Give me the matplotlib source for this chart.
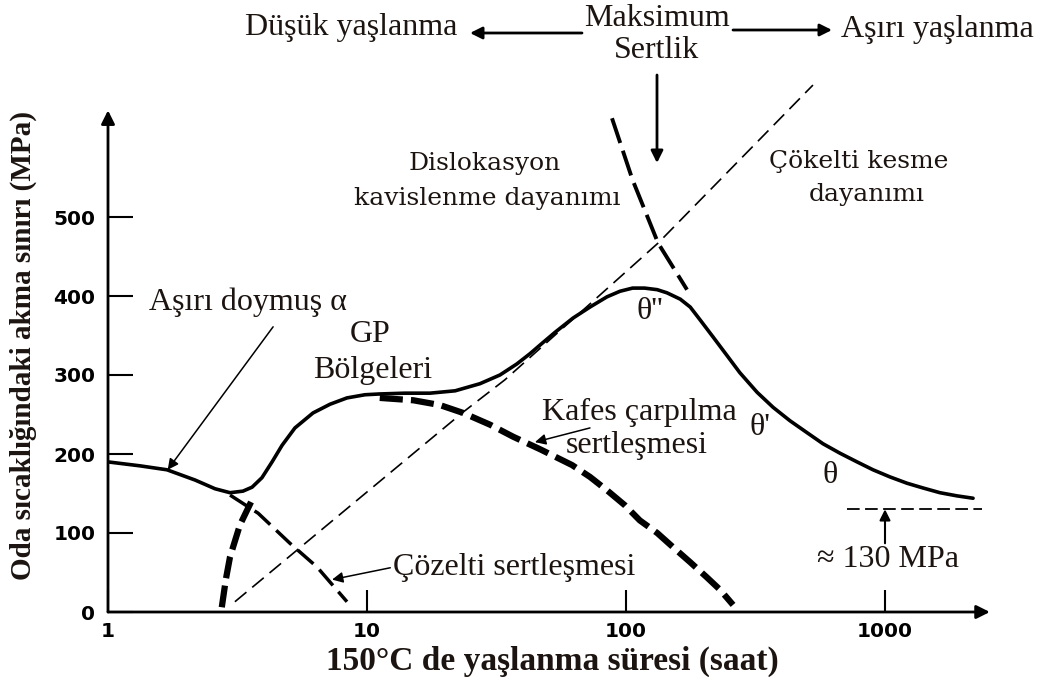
import matplotlib.pyplot as plt

# yield strength curves, x in hours (log), y in MPa
t_total = [1.0, 1.33, 1.69, 2.17, 2.59, 2.96, 3.32, 3.60, 3.93, 4.30, 4.70, 5.27, 6.19,
           7.20, 8.37, 9.82, 11.2, 14.0, 17.5, 21.9, 27.3, 32.6, 37.9, 42.6, 46.6, 53.2,
           62.4, 72.6, 84.5, 94.8, 106, 118, 132, 144, 162, 177, 193, 217, 245, 275, 321,
           370, 430, 500, 576, 670, 780, 899, 1045, 1216, 1402, 1630, 1897, 2188]
s_total = [190, 185, 180, 167, 156, 151, 153, 158, 170, 190, 211, 233, 252,
           263, 271, 275, 276, 277, 277, 280, 289, 300, 314, 327, 338, 354,
           372, 386, 399, 406, 410, 410, 408, 404, 396, 386, 370, 348, 325, 303, 278,
           259, 242, 227, 213, 201, 190, 180, 171, 163, 157, 151, 147, 144]

t_shear = [3.09, 23.5, 34.1, 89.1, 133, 527]
s_shear = [13, 253, 294, 416, 467, 667]

t_bow = [88.3, 106, 133, 172]
s_bow = [625, 547, 467, 408]

t_coh = [11.2, 15.1, 19.1, 23.5, 29.9, 36.6, 46.6, 61.9, 72.6, 84.5, 99.1, 113,
         132, 152, 177, 205, 231, 259]
s_coh = [271, 268, 262, 252, 237, 222, 206, 186, 171, 154, 135, 116,
         100, 82, 63, 44, 28, 9]

t_gp = [2.75, 2.85, 2.96, 3.23, 3.60]
s_gp = [6, 41, 70, 110, 142]

t_sol = [2.96, 3.80, 5.04, 6.41, 8.37]
s_sol = [148, 125, 87, 57, 13]

t_base = [713, 2370]
s_base = [130, 130]

xticks = [1, 10, 100, 1000]
yticks = [0, 100, 200, 300, 400, 500]

ink = '#1c1410'
serif = 'Liberation Serif'

fig = plt.figure(figsize=(10.43, 6.77), dpi=100)
ax = fig.add_axes([108/1043, 65/677, 935/1043, 612/677])
ax.set_xscale('log')
ax.set_xlim(1, 10**(935/259))
ax.set_ylim(0, 612/0.79)
for s in ax.spines.values():
    s.set_visible(False)

# axes with arrow heads
ax.annotate('', xy=(1, 635), xytext=(1, 0),
            arrowprops=dict(arrowstyle='-|>', lw=2, color='k', mutation_scale=20, shrinkA=0, shrinkB=0))
ax.annotate('', xy=(2540, 0), xytext=(1, 0),
            arrowprops=dict(arrowstyle='-|>', lw=2, color='k', mutation_scale=20, shrinkA=0, shrinkB=0))

ax.set_xticks(xticks)
ax.set_xticklabels([str(v) for v in xticks])
ax.minorticks_off()
ax.set_yticks(yticks)
ax.tick_params(axis='x', direction='in', length=16, width=1.5, pad=7)
ax.tick_params(axis='y', direction='in', length=18, width=1.5, pad=9)
for lab in ax.get_xticklabels() + ax.get_yticklabels():
    lab.set_fontfamily('DejaVu Sans')
    lab.set_fontweight('bold')
    lab.set_fontsize(14.5)

# curves
ax.plot(t_total, s_total, color='k', lw=2.6, solid_capstyle='round', solid_joinstyle='round')
ax.plot(t_shear, s_shear, color='k', lw=1.2, linestyle=(0, (9, 4.5)))
ax.plot(t_bow, s_bow, color='k', lw=2.8, linestyle=(0, (6.7, 2.1)))
ax.plot(t_coh, s_coh, color='k', lw=4.5, linestyle=(0, (3.7, 1.3)))
ax.plot(t_gp, s_gp, color='k', lw=4.5, linestyle=(0, (3.5, 1.2)))
ax.plot(t_sol, s_sol, color='k', lw=2.5, linestyle=(0, (6, 2.4)))
ax.plot(t_base, s_base, color='k', lw=1.3, linestyle=(0, (7, 3)))

arw = dict(arrowstyle='-|>', color='k', lw=1.1, mutation_scale=16, shrinkA=0, shrinkB=0)
txt = dict(family=serif, fontsize=23, color=ink, ha='center', va='center')

ax.text(3.47, 392, 'Aşırı doymuş α', **txt)
ax.annotate('', xy=(1.70, 180), xytext=(4.34, 361), arrowprops=arw)
ax.text(10.3, 351, 'GP', **txt)
ax.text(10.5, 306, 'Bölgeleri', **txt)
ax.text(113, 253, 'Kafes çarpılma', **txt)
ax.text(110, 211, 'sertleşmesi', **txt)
ax.annotate('', xy=(44.5, 215), xytext=(72.6, 233), arrowprops=arw)
ax.text(12.6, 56, 'Çözelti sertleşmesi', **dict(txt, ha='left'))
ax.annotate('', xy=(7.33, 41), xytext=(12.3, 56), arrowprops=arw)
ax.text(124, 380, "θ''", **txt)
ax.text(329, 233, "θ'", **txt)
ax.text(614, 173, 'θ', **txt)
ax.text(1027, 66, '≈ 130 MPa', **txt)
ax.annotate('', xy=(1000, 130), xytext=(1000, 87), arrowprops=dict(arw, lw=1.5))

dtxt = dict(family='DejaVu Serif', fontsize=18, color=ink, ha='center', va='center')
ax.text(28.5, 568, 'Dislokasyon', **dtxt)
ax.text(29.1, 524, 'kavislenme dayanımı', **dtxt)
ax.text(794, 570, 'Çökelti kesme', **dtxt)
ax.text(853, 528, 'dayanımı', **dtxt)

# header above the plot
fig.text(351/1043, 1 - 28/677, 'Düşük yaşlanma', **txt)
fig.text(657/1043, 1 - 19/677, 'Maksimum', **txt)
fig.text(657/1043, 1 - 51/677, 'Sertlik', **txt)
fig.text(937/1043, 1 - 30/677, 'Aşırı yaşlanma', **txt)
top = dict(arrowstyle='-|>', color='k', lw=2, mutation_scale=18, shrinkA=0, shrinkB=0)
ax.annotate('', xy=(470/1043, 1 - 33/677), xytext=(582/1043, 1 - 33/677),
            xycoords='figure fraction', textcoords='figure fraction', arrowprops=top)
ax.annotate('', xy=(832/1043, 1 - 30/677), xytext=(733/1043, 1 - 30/677),
            xycoords='figure fraction', textcoords='figure fraction', arrowprops=top)
ax.annotate('', xy=(657/1043, 1 - 163/677), xytext=(657/1043, 1 - 75/677),
            xycoords='figure fraction', textcoords='figure fraction', arrowprops=top)

fig.text(23/1043, 1 - 345/677, 'Oda sıcaklığındaki akma sınırı (MPa)', family=serif,
         fontsize=21, fontweight='bold', color=ink, rotation=90, ha='center', va='center')
fig.text(552/1043, 1 - 661/677, '150°C de yaşlanma süresi (saat)', family=serif,
         fontsize=24, fontweight='bold', color=ink, ha='center', va='center')

fig.savefig('out.png', dpi=100)
